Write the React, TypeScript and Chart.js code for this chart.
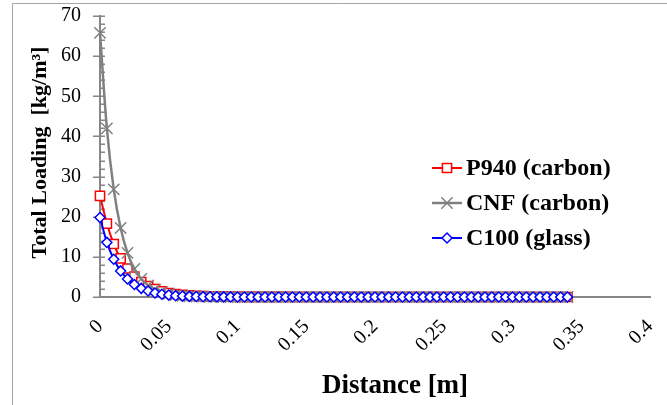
import React, { useEffect, useRef } from 'react';
import { Chart, registerables } from 'chart.js';

Chart.register(...registerables);

// ---------- data ----------
const distance = [
  0, 0.005, 0.01, 0.015, 0.02, 0.025, 0.03, 0.035, 0.04, 0.045,
  0.05, 0.055, 0.06, 0.065, 0.07, 0.075, 0.08, 0.085, 0.09, 0.095,
  0.1, 0.105, 0.11, 0.115, 0.12, 0.125, 0.13, 0.135, 0.14, 0.145,
  0.15, 0.155, 0.16, 0.165, 0.17, 0.175, 0.18, 0.185, 0.19, 0.195,
  0.2, 0.205, 0.21, 0.215, 0.22, 0.225, 0.23, 0.235, 0.24, 0.245,
  0.25, 0.255, 0.26, 0.265, 0.27, 0.275, 0.28, 0.285, 0.29, 0.295,
  0.3, 0.305, 0.31, 0.315, 0.32, 0.325, 0.33, 0.335, 0.34,
];

const p940 = [
  25.2, 18.3, 13.2, 9.6, 7.1, 5.1, 3.7, 2.7, 1.95, 1.4,
  1.0, 0.75, 0.55, 0.4, 0.3, 0.22, 0.16, 0.12, 0.09, 0.07,
  0.05, 0.04, 0.03, 0.02, 0.02, 0.01, 0.01, 0.01, 0, 0,
  0, 0, 0, 0, 0, 0, 0, 0, 0, 0,
  0, 0, 0, 0, 0, 0, 0, 0, 0, 0,
  0, 0, 0, 0, 0, 0, 0, 0, 0, 0,
  0, 0, 0, 0, 0, 0, 0, 0, 0,
];

const cnf = [
  65.8, 42.0, 26.8, 17.2, 11.0, 7.0, 4.5, 2.9, 1.85, 1.2,
  0.77, 0.5, 0.32, 0.2, 0.13, 0.08, 0.05, 0.03, 0.02, 0.01,
  0.01, 0, 0, 0, 0, 0, 0, 0, 0, 0,
  0, 0, 0, 0, 0, 0, 0, 0, 0, 0,
  0, 0, 0, 0, 0, 0, 0, 0, 0, 0,
  0, 0, 0, 0, 0, 0, 0, 0, 0, 0,
  0, 0, 0, 0, 0, 0, 0, 0, 0,
];

const c100 = [
  19.8, 13.6, 9.4, 6.5, 4.5, 3.1, 2.15, 1.5, 1.0, 0.7,
  0.48, 0.33, 0.23, 0.16, 0.11, 0.08, 0.05, 0.04, 0.03, 0.02,
  0.01, 0.01, 0, 0, 0, 0, 0, 0, 0, 0,
  0, 0, 0, 0, 0, 0, 0, 0, 0, 0,
  0, 0, 0, 0, 0, 0, 0, 0, 0, 0,
  0, 0, 0, 0, 0, 0, 0, 0, 0, 0,
  0, 0, 0, 0, 0, 0, 0, 0, 0,
];

const seriesNames = ['P940 (carbon)', 'CNF (carbon)', 'C100 (glass)'];
const xTickLabels = ['0', '0.05', '0.1', '0.15', '0.2', '0.25', '0.3', '0.35', '0.4'];
const yTickLabels = ['0', '10', '20', '30', '40', '50', '60', '70'];
const xTitle = 'Distance [m]';
const yTitle = 'Total Loading  [kg/m³]';

// ---------- styles ----------
const FONT = '"Liberation Serif", "Times New Roman", serif';
const AXIS = '#868686';
const RED = '#ff0000';
const GRAY = '#808080';
const BLUE = '#0000ff';

function drawMarker(ctx: CanvasRenderingContext2D, style: string, x: number, y: number, r: number) {
  ctx.beginPath();
  if (style === 'rect') {
    const s = r * Math.SQRT1_2;
    ctx.rect(x - s, y - s, 2 * s, 2 * s);
    ctx.fill();
    ctx.stroke();
  } else if (style === 'rectRot') {
    ctx.moveTo(x - r, y);
    ctx.lineTo(x, y - r);
    ctx.lineTo(x + r, y);
    ctx.lineTo(x, y + r);
    ctx.closePath();
    ctx.fill();
    ctx.stroke();
  } else {
    const s = r * Math.SQRT1_2;
    ctx.moveTo(x - s, y - s);
    ctx.lineTo(x + s, y + s);
    ctx.moveTo(x + s, y - s);
    ctx.lineTo(x - s, y + s);
    ctx.stroke();
  }
}

const decorPlugin = {
  id: 'decor',
  beforeDraw(chart: any) {
    const ctx = chart.ctx as CanvasRenderingContext2D;
    ctx.save();
    ctx.strokeStyle = '#a6a6a6';
    ctx.lineWidth = 1;
    ctx.beginPath();
    ctx.moveTo(12.5, chart.height);
    ctx.lineTo(12.5, 3.5);
    ctx.lineTo(chart.width, 3.5);
    ctx.stroke();
    ctx.restore();
  },
  beforeDatasetsDraw(chart: any) {
    const ctx = chart.ctx as CanvasRenderingContext2D;
    const y = chart.scales.y;
    const left = chart.chartArea.left;
    ctx.save();
    ctx.strokeStyle = AXIS;
    ctx.lineWidth = 1.5;
    ctx.beginPath();
    const max = y.max;
    for (let v = 0; v <= max; v += 2) {
      const py = Math.round(y.getPixelForValue(v)) + 0.25;
      const major = v % 10 === 0;
      ctx.moveTo(major ? left - 7 : left, py);
      ctx.lineTo(left + 5, py);
    }
    ctx.stroke();
    ctx.restore();
  },
  afterDraw(chart: any) {
    const ctx = chart.ctx as CanvasRenderingContext2D;
    const area = chart.chartArea;
    ctx.save();
    // axis titles
    ctx.fillStyle = '#000';
    ctx.font = `bold 27px ${FONT}`;
    ctx.textAlign = 'center';
    ctx.textBaseline = 'middle';
    ctx.fillText(xTitle, 395, 386);
    ctx.save();
    ctx.translate(40, (area.top + area.bottom) / 2 - 4);
    ctx.rotate(-Math.PI / 2);
    ctx.font = `bold 22px ${FONT}`;
    ctx.fillText(yTitle, 0, 0);
    ctx.restore();

    // legend
    chart.data.datasets.forEach((ds: any, i: number) => {
      const cy = 168 + i * 35;
      ctx.strokeStyle = ds.borderColor;
      ctx.lineWidth = ds.borderWidth;
      ctx.beginPath();
      ctx.moveTo(432, cy);
      ctx.lineTo(462, cy);
      ctx.stroke();
      ctx.lineWidth = ds.pointBorderWidth;
      ctx.fillStyle = '#fff';
      drawMarker(ctx, ds.pointStyle, 447, cy, ds.pointRadius);
      ctx.fillStyle = '#000';
      ctx.font = `bold 24px ${FONT}`;
      ctx.textAlign = 'left';
      ctx.textBaseline = 'middle';
      ctx.fillText(ds.label, 466, cy + 1);
    });
    ctx.restore();
  },
};

export default function App() {
  const ref = useRef<HTMLCanvasElement | null>(null);

  useEffect(() => {
    if (!ref.current) return;
    const toPts = (ys: number[]) => distance.map((x, i) => ({ x, y: ys[i] }));
    const chart = new Chart(ref.current, {
      type: 'line',
      data: {
        datasets: [
          {
            label: seriesNames[0],
            data: toPts(p940),
            borderColor: RED,
            backgroundColor: '#fff',
            borderWidth: 2,
            pointStyle: 'rect',
            pointRadius: 6.5,
            pointBorderWidth: 1.5,
            pointBorderColor: RED,
            pointBackgroundColor: '#fff',
            cubicInterpolationMode: 'monotone',
            clip: false,
            order: 2,
          },
          {
            label: seriesNames[1],
            data: toPts(cnf),
            borderColor: GRAY,
            backgroundColor: GRAY,
            borderWidth: 2.5,
            pointStyle: 'crossRot',
            pointRadius: 8,
            pointBorderWidth: 1.5,
            pointBorderColor: GRAY,
            pointBackgroundColor: GRAY,
            cubicInterpolationMode: 'monotone',
            clip: false,
            order: 1,
          },
          {
            label: seriesNames[2],
            data: toPts(c100),
            borderColor: BLUE,
            backgroundColor: '#fff',
            borderWidth: 2,
            pointStyle: 'rectRot',
            pointRadius: 5,
            pointBorderWidth: 1.5,
            pointBorderColor: BLUE,
            pointBackgroundColor: '#fff',
            cubicInterpolationMode: 'monotone',
            clip: false,
            order: 0,
          },
        ] as any,
      },
      options: {
        responsive: false,
        animation: false,
        events: [],
        layout: { autoPadding: false, padding: { left: 12, top: 16, right: 17, bottom: 0 } },
        plugins: {
          legend: { display: false },
          tooltip: { enabled: false },
        },
        scales: {
          x: {
            type: 'linear',
            min: 0,
            max: 0.4,
            grid: { display: false, drawTicks: false },
            border: { display: true, color: AXIS, width: 2 },
            ticks: {
              stepSize: 0.05,
              autoSkip: false,
              maxRotation: 45,
              minRotation: 45,
              padding: 18,
              color: '#000',
              font: { family: FONT, size: 20 },
              callback: (_v: any, i: number) => xTickLabels[i],
            },
            afterFit: (s: any) => {
              s.height = 108;
              s.paddingLeft = 0;
              s.paddingRight = 0;
              s.paddingTop = 0;
              s.paddingBottom = 0;
            },
          },
          y: {
            type: 'linear',
            min: 0,
            max: 70,
            grid: { display: false, drawTicks: false },
            border: { display: true, color: AXIS, width: 2 },
            ticks: {
              stepSize: 10,
              padding: 19,
              color: '#000',
              font: { family: FONT, size: 20 },
              callback: (_v: any, i: number) => yTickLabels[i],
            },
            afterFit: (s: any) => {
              s.width = 88;
              s.paddingLeft = 0;
              s.paddingRight = 0;
              s.paddingTop = 0;
              s.paddingBottom = 0;
            },
          },
        },
      },
      plugins: [decorPlugin],
    });
    return () => chart.destroy();
  }, []);

  return (
    <div style={{ position: 'absolute', left: 0, top: 0, width: 667, height: 405, background: '#fff' }}>
      <canvas ref={ref} width={667} height={405} style={{ display: 'block' }} />
    </div>
  );
}
